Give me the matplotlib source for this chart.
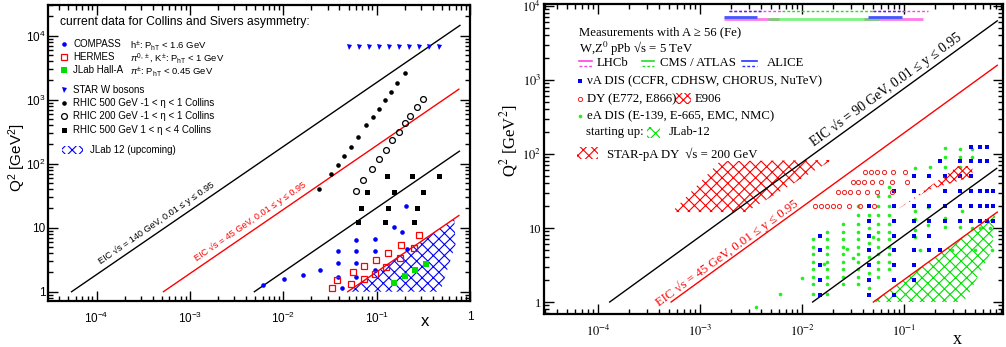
import numpy as np
import matplotlib
matplotlib.use("Agg")
import matplotlib.pyplot as plt
from matplotlib.patches import Polygon, Rectangle
from matplotlib.lines import Line2D

plt.rcParams['mathtext.fontset'] = 'custom'
plt.rcParams['mathtext.rm'] = 'Liberation Sans'
plt.rcParams['mathtext.it'] = 'Liberation Sans:italic'
plt.rcParams['mathtext.bf'] = 'Liberation Sans:bold'
plt.rcParams['hatch.linewidth'] = 0.8

SANS = 'Liberation Sans'
SERIF = 'Liberation Serif'

# ---------------- left panel data: Collins / Sivers ----------------
compass_x = [0.0061, 0.0103, 0.0162, 0.0249, 0.0388, 0.0388, 0.0388, 0.0428, 0.0603, 0.0603,
             0.0603, 0.0603, 0.0968, 0.0968, 0.0968, 0.155, 0.189, 0.207, 0.210]
compass_q2 = [1.26, 1.56, 1.82, 2.18, 4.28, 2.84, 1.71, 1.16, 6.50, 4.38,
              2.78, 1.71, 6.65, 4.38, 2.18, 10.4, 8.47, 21.8, 4.65]

hermes_x = [0.0332, 0.0372, 0.0533, 0.0556, 0.0728, 0.0740, 0.0953, 0.0975, 0.127, 0.132,
            0.177, 0.183, 0.249, 0.284]
hermes_q2 = [1.13, 1.51, 1.32, 2.01, 1.56, 2.55, 1.87, 3.13, 2.40, 4.06,
             3.33, 5.42, 4.82, 7.69]

halla_x = [0.152, 0.199, 0.255, 0.334]
halla_q2 = [1.38, 1.76, 2.16, 2.68]

starw_x = [0.050, 0.064, 0.082, 0.105, 0.135, 0.173, 0.223, 0.284, 0.366, 0.468]
starw_q2 = [6600] * 10

rhic500_x = [0.199, 0.166, 0.142, 0.122, 0.105, 0.0906, 0.0776, 0.0624, 0.0528, 0.0449,
             0.0382, 0.0324, 0.0243]
rhic500_q2 = [2612, 1824, 1318, 977, 723, 537, 403, 258, 185, 132, 95.5, 68.2, 40.3]

rhic200_x = [0.311, 0.269, 0.230, 0.202, 0.173, 0.147, 0.126, 0.106, 0.0885, 0.0715, 0.0603]
rhic200_q2 = [1026, 778, 562, 433, 313, 232, 166, 118, 82.6, 55.6, 37.8]

rhicfwd_x = [0.128, 0.238, 0.460, 0.0789, 0.153, 0.311, 0.0681, 0.131, 0.273, 0.0632, 0.122, 0.254]
rhicfwd_q2 = [64.3, 64.3, 64.3, 35.7, 35.7, 35.7, 20.1, 20.1, 20.1, 12.1, 12.1, 12.1]

jlab_left_x = [0.049, 0.68, 0.70, 0.48]
jlab_left_q2 = [1.0, 14.0, 5.5, 1.0]

eic140_x, eic140_q2 = [5.4e-5, 0.78], [1.0, 14500]
eic45l_x, eic45l_q2 = [5.2e-4, 0.76], [1.0, 1460]
low_l_x, low_l_q2 = [4.9e-3, 0.77], [1.0, 157]
jl_l_x, jl_l_q2 = [0.049, 0.76], [1.0, 15.5]

# ---------------- right panel data: nuclear ----------------
eic90_x, eic90_q2 = [1.3e-4, 0.82], [1.0, 6300]
eic45r_x, eic45r_q2 = [5.2e-4, 0.82], [1.0, 1580]
low_r_x, low_r_q2 = [0.0127, 0.81], [1.0, 64]
jl_r_x, jl_r_q2 = [0.05, 0.82], [1.0, 16.4]

dy_x = [0.0415, 0.0475, 0.0547, 0.0641, 0.0775, 0.102,
        0.0314, 0.0356, 0.0405, 0.0482, 0.0591, 0.0757, 0.108,
        0.0227, 0.0258, 0.0296, 0.0352, 0.0431, 0.0547, 0.0757,
        0.0134, 0.0152, 0.0175, 0.0200, 0.0232, 0.0291, 0.0371, 0.0512]
dy_q2 = [56.6] * 6 + [42.2] * 7 + [30.4] * 7 + [20.0] * 8

nu_x = ([0.015] * 5 + [0.045] * 7 + [0.08] * 8 + [0.125] * 8 + [0.175] * 5 + [0.225] * 2
        + [0.25] * 4 + [0.35] * 5 + [0.45] * 6 + [0.55] * 5 + [0.65] * 5 + [0.75] * 3)
nu_q2 = ([1.26, 2.0, 3.16, 5.0, 7.9]
         + [1.26, 2.0, 3.16, 5.0, 7.9, 12.6, 20]
         + [1.26, 2.0, 3.16, 5.0, 7.9, 12.6, 20, 31.6]
         + [2.0, 3.16, 5.0, 7.9, 12.6, 20, 31.6, 50]
         + [5.0, 7.9, 12.6, 20, 50]
         + [5.0, 80]
         + [12.6, 20, 31.6, 50]
         + [12.6, 20, 31.6, 50, 80]
         + [12.6, 20, 31.6, 50, 80, 126]
         + [12.6, 20, 31.6, 80, 126]
         + [12.6, 20, 31.6, 80, 126]
         + [12.6, 20, 31.6])

ea_x = ([0.0127] * 8 + [0.0177] * 9 + [0.0251] * 9 + [0.0356] * 11 + [0.0457] * 6
        + [0.056] * 11 + [0.0713] * 11
        + [0.128, 0.18, 0.252, 0.252, 0.252, 0.354, 0.354, 0.354, 0.461, 0.461,
           0.128, 0.128, 0.173, 0.128, 0.128, 0.173, 0.252, 0.252, 0.354, 0.368,
           0.461, 0.556, 0.697, 0.1435, 0.294, 0.497, 0.724,
           0.0099, 0.0061, 0.0035, 0.0163, 0.0274, 0.0314, 0.05])
ea_q2 = ([1.28, 1.75, 2.2, 2.8, 3.5, 4.4, 5.6, 7.0]
         + [1.28, 1.75, 2.2, 2.8, 3.5, 4.4, 5.6, 7.0, 8.9]
         + [1.75, 2.2, 2.8, 3.5, 4.4, 5.6, 7.0, 8.9, 11.3]
         + [1.75, 2.2, 2.8, 3.5, 4.4, 5.6, 7.0, 8.9, 11.3, 15, 19.8]
         + [1.56, 2.5, 4.0, 6.2, 9.9, 15]
         + [2.2, 2.8, 3.5, 4.4, 5.6, 7.0, 8.9, 11.3, 15, 19.8, 27]
         + [2.8, 3.5, 4.4, 5.6, 7.0, 8.9, 11.3, 15, 19.8, 27, 36]
         + [64, 67, 119, 92, 67, 116, 92, 67, 116, 92,
            17.1, 9.4, 19.4, 13.2, 7.6, 11, 13.5, 10.4, 10.4, 17.1,
            9.9, 9.9, 9.9, 5.0, 5.0, 5.0, 5.0,
            2.09, 1.28, 0.85, 3.26, 5.15, 3.97, 7.5])

star_pa_x = [5.28e-4, 2.82e-3, 0.0197, 1.57e-3]
star_pa_q2 = [16.4, 16.4, 83, 80]

e906_x = [0.0867, 0.34, 0.468, 0.468, 0.173]
e906_q2 = [17.9, 68.9, 68.9, 49.4, 32.6]

jlab_right_x = [0.05, 0.78, 0.729, 0.415, 0.37]
jlab_right_q2 = [1.0, 15.5, 5.0, 1.17, 1.0]

# W / Z0 pPb ranges (x_min, x_max) at Q2 = M_W^2 (solid) and M_Z^2 (dashed)
lhcb_w = [(1.72e-3, 5.96e-3), (0.0406, 0.153)]
cms_w = [(4.64e-3, 0.0569)]
alice_w = [(1.72e-3, 3.62e-3), (0.0444, 0.0955)]
lhcb_z = [(1.92e-3, 6.37e-3), (0.0497, 0.172)]
cms_z = [(6.37e-3, 0.0497)]
alice_z = [(1.92e-3, 4.06e-3), (0.0497, 0.0977)]
q2_w, q2_w_alice, q2_z = 6600, 7050, 8500

BLUE = '#0000ff'
RED = '#ff0000'
GREEN = '#00e000'
MAG = '#ff40e0'

fig = plt.figure(figsize=(10.06, 3.47), dpi=100)
W, H = 1006.0, 347.0
ax1 = fig.add_axes([48 / W, (H - 301) / H, 422 / W, 296 / H])
ax2 = fig.add_axes([544 / W, (H - 314) / H, 459 / W, 310 / H])

def setup(ax, xlim, ylim, family, mathfam, fs):
    ax.set_xscale('log')
    ax.set_yscale('log')
    ax.set_xlim(*xlim)
    ax.set_ylim(*ylim)
    xt = [1e-4, 1e-3, 1e-2, 1e-1, 1.0]
    xl = ['$10^{-4}$', '$10^{-3}$', '$10^{-2}$', '$10^{-1}$', '1']
    xt2 = [t for t in xt if xlim[0] <= t <= xlim[1]]
    xl2 = [l for t, l in zip(xt, xl) if xlim[0] <= t <= xlim[1]]
    ax.set_xticks(xt2, xl2)
    yt = [1, 10, 100, 1000, 10000]
    yl = ['1', '10', '$10^{2}$', '$10^{3}$', '$10^{4}$']
    yt2 = [t for t in yt if ylim[0] <= t <= ylim[1] * 1.001]
    yl2 = [l for t, l in zip(yt, yl) if ylim[0] <= t <= ylim[1] * 1.001]
    ax.set_yticks(yt2, yl2)
    ax.xaxis.set_minor_locator(matplotlib.ticker.LogLocator(base=10, subs=np.arange(2, 10), numticks=20))
    ax.yaxis.set_minor_locator(matplotlib.ticker.LogLocator(base=10, subs=np.arange(2, 10), numticks=20))
    ax.xaxis.set_minor_formatter(matplotlib.ticker.NullFormatter())
    ax.yaxis.set_minor_formatter(matplotlib.ticker.NullFormatter())
    ax.tick_params(which='both', direction='in', top=True, right=True, width=1.0,
                   labelsize=fs, labelfontfamily=family)
    ax.tick_params(which='major', length=7)
    ax.tick_params(which='minor', length=3.5)
    ax.tick_params(axis='x', which='major', pad=7)
    ax.tick_params(axis='y', which='major', pad=2)
    for lab in ax.get_xticklabels() + ax.get_yticklabels():
        lab.set_math_fontfamily(mathfam)
    for s in ax.spines.values():
        s.set_linewidth(1.6)

def slope_label(ax, xs, ys, xc, text, color, fs, family, off):
    p1 = ax.transData.transform((xs[0], ys[0]))
    p2 = ax.transData.transform((xs[1], ys[1]))
    ang = np.degrees(np.arctan2(p2[1] - p1[1], p2[0] - p1[0]))
    k = ys[1] / xs[1]
    r = np.radians(ang)
    ax.annotate(text, (xc, k * xc), xytext=(-np.sin(r) * off, np.cos(r) * off),
                textcoords='offset points', rotation=ang, rotation_mode='anchor',
                ha='center', va='bottom', color=color, fontsize=fs, family=family)

# ---------------- left panel ----------------
setup(ax1, (10 ** -4.52, 1.0), (10 ** -0.145, 10 ** 4.48), SANS, 'custom', 8.5)

ax1.add_patch(Polygon(list(zip(jlab_left_x, jlab_left_q2)), closed=True, fill=False,
                      hatch='xxx', edgecolor=BLUE, lw=0))
ax1.plot(eic140_x, eic140_q2, color='black', lw=1.0)
ax1.plot(eic45l_x, eic45l_q2, color=RED, lw=1.0)
ax1.plot(low_l_x, low_l_q2, color='black', lw=1.0)
ax1.plot(jl_l_x, jl_l_q2, color=RED, lw=1.0)

ax1.plot(compass_x, compass_q2, 'o', color=BLUE, ms=3.3, mew=0)
ax1.plot(hermes_x, hermes_q2, 's', mfc='none', mec=RED, ms=4.2, mew=0.9)
ax1.plot(halla_x, halla_q2, 's', color=GREEN, ms=4.2, mew=0)
ax1.plot(starw_x, starw_q2, 'v', color=BLUE, ms=3.6, mew=0)
ax1.plot(rhic500_x, rhic500_q2, 'o', color='black', ms=3.3, mew=0)
ax1.plot(rhic200_x, rhic200_q2, 'o', mfc='none', mec='black', ms=4.2, mew=0.9)
ax1.plot(rhicfwd_x, rhicfwd_q2, 's', color='black', ms=3.6, mew=0)

slope_label(ax1, eic140_x, eic140_q2, 4.9e-4, 'EIC √s = 140 GeV, 0.01 ≤ y ≤ 0.95',
            'black', 6.6, SANS, 3)
slope_label(ax1, eic45l_x, eic45l_q2, 5.0e-3, 'EIC √s = 45 GeV, 0.01 ≤ y ≤ 0.95',
            RED, 6.6, SANS, 3)

def fx1(px):
    return (px - 48) / 422.0

def fy1(py):
    return (301 - py) / 296.0

T1 = ax1.transAxes
ax1.text(fx1(60), fy1(22), 'current data for Collins and Sivers asymmetry:', transform=T1,
         fontsize=8.7, family=SANS, va='center')
leg1 = [
    ('o', BLUE, BLUE, 3.3, 44, 'COMPASS', r'h$^{\pm}$: P$_{\rm hT}$ < 1.6 GeV'),
    ('s', 'none', RED, 4.2, 57, 'HERMES', r'$\pi^{0,\pm}$, K$^{\pm}$: P$_{\rm hT}$ < 1 GeV'),
    ('s', GREEN, GREEN, 4.2, 70, 'JLab Hall-A', r'$\pi^{\pm}$: P$_{\rm hT}$ < 0.45 GeV'),
    ('v', BLUE, BLUE, 3.6, 90, 'STAR W bosons', None),
    ('o', 'black', 'black', 3.3, 103, 'RHIC 500 GeV -1 < η < 1 Collins', None),
    ('o', 'none', 'black', 4.2, 116, 'RHIC 200 GeV -1 < η < 1 Collins', None),
    ('s', 'black', 'black', 3.6, 130, 'RHIC 500 GeV 1 < η < 4 Collins', None),
]
for mk, fc, ec, ms, py, lab, extra in leg1:
    ax1.add_line(Line2D([fx1(64)], [fy1(py)], marker=mk, mfc=fc, mec=ec, ms=ms,
                        mew=0.9 if fc == 'none' else 0, transform=T1))
    ax1.text(fx1(73), fy1(py), lab, transform=T1, fontsize=7.0, family=SANS, va='center')
    if extra:
        ax1.text(fx1(130), fy1(py), extra, transform=T1, fontsize=6.8, family=SANS,
                 va='center_baseline', math_fontfamily='custom')
ax1.add_patch(Rectangle((fx1(62), fy1(154)), fx1(83) - fx1(62), fy1(146) - fy1(154),
                        transform=T1, fill=False, hatch='xxx', edgecolor=BLUE, lw=0))
ax1.text(fx1(90), fy1(150), 'JLab 12 (upcoming)', transform=T1, fontsize=7.0, family=SANS,
         va='center')

fig.text(17 / W, 1 - 158 / H, r'Q$^2$ [GeV$^2$]', rotation=90, ha='center', va='center',
         fontsize=11, family=SANS, math_fontfamily='custom')
fig.text(425 / W, 1 - 322 / H, 'x', ha='center', va='center', fontsize=12, family=SANS)

# ---------------- right panel ----------------
setup(ax2, (10 ** -4.53, 10 ** -0.03), (10 ** -0.162, 10 ** 4.027), SERIF, 'stix', 9.0)

ax2.add_patch(Polygon(list(zip(star_pa_x, star_pa_q2)), closed=True, fill=False,
                      hatch='xxx', edgecolor=RED, lw=0))
ax2.add_patch(Polygon(list(zip(jlab_right_x, jlab_right_q2)), closed=True, fill=False,
                      hatch='xxx', edgecolor=GREEN, lw=0))

ax2.plot(ea_x, ea_q2, 'o', color='#22ee22', ms=2.6, mew=0)
ax2.plot(nu_x, nu_q2, 's', color='#0000ee', ms=3.2, mew=0)
ax2.plot(dy_x, dy_q2, 'o', mfc='none', mec='#ee2222', ms=3.0, mew=0.7)
ax2.add_patch(Polygon(list(zip(e906_x, e906_q2)), closed=True, fill=False,
                      hatch='xxxx', edgecolor=RED, lw=0, zorder=3))

ax2.plot(eic90_x, eic90_q2, color='black', lw=1.0)
ax2.plot(eic45r_x, eic45r_q2, color=RED, lw=1.0)
ax2.plot(low_r_x, low_r_q2, color='black', lw=1.0)
ax2.plot(jl_r_x, jl_r_q2, color=RED, lw=1.0)

for a, b in lhcb_w:
    ax2.plot([a, b], [q2_w, q2_w], color=MAG, lw=2.0, alpha=0.7, solid_capstyle='butt')
for a, b in cms_w:
    ax2.plot([a, b], [q2_w, q2_w], color='#44ee44', lw=2.0, alpha=0.7, solid_capstyle='butt')
for a, b in alice_w:
    ax2.plot([a, b], [q2_w_alice, q2_w_alice], color='#4455ff', lw=2.0, solid_capstyle='butt')
for a, b in lhcb_z:
    ax2.plot([a, b], [q2_z, q2_z], color=MAG, lw=1.0, ls=(0, (2, 1.5)))
for a, b in cms_z:
    ax2.plot([a, b], [q2_z, q2_z], color='#22dd22', lw=1.0, ls=(0, (2, 1.5)))
for a, b in alice_z:
    ax2.plot([a, b], [q2_z, q2_z], color='#2233ff', lw=1.0, ls=(0, (2, 1.5)))

slope_label(ax2, eic90_x, eic90_q2, 0.075, 'EIC √s = 90 GeV, 0.01 ≤ y ≤ 0.95',
            'black', 9.8, SERIF, 2)
slope_label(ax2, eic45r_x, eic45r_q2, 2.0e-3, 'EIC √s = 45 GeV, 0.01 ≤ y ≤ 0.95',
            RED, 9.2, SERIF, 0.5)

def fx2(px):
    return (px - 544) / 459.0

def fy2(py):
    return (314 - py) / 310.0

T2 = ax2.transAxes
fs2 = 9.2
ax2.text(fx2(579), fy2(32), 'Measurements with A ≥ 56 (Fe)', transform=T2, fontsize=fs2,
         family=SERIF, va='center')
ax2.text(fx2(579), fy2(46), r'W,Z$^0$ pPb √s = 5 TeV', transform=T2, fontsize=fs2,
         family=SERIF, va='center_baseline', math_fontfamily='stix')
for x0, x1, col, lab, xt in [(579, 592, MAG, 'LHCb', 597), (642, 654, '#22dd22', 'CMS / ATLAS', 660),
                             (742, 757, '#2233ff', 'ALICE', 767)]:
    ax2.add_line(Line2D([fx2(x0), fx2(x1)], [fy2(61), fy2(61)], color=col, lw=1.2, transform=T2))
    ax2.add_line(Line2D([fx2(x0), fx2(x1)], [fy2(66), fy2(66)], color=col, lw=1.0,
                        ls=(0, (2, 1.5)), transform=T2))
    ax2.text(fx2(xt), fy2(63), lab, transform=T2, fontsize=fs2, family=SERIF, va='center')

ax2.add_line(Line2D([fx2(580)], [fy2(81)], marker='s', color='#0000ee', ms=3.2, mew=0, transform=T2))
ax2.text(fx2(587), fy2(81), 'νA DIS (CCFR, CDHSW, CHORUS, NuTeV)', transform=T2, fontsize=fs2,
         family=SERIF, va='center')
ax2.add_line(Line2D([fx2(580)], [fy2(99)], marker='o', mfc='none', mec='#ee2222', ms=3.0, mew=0.7,
                    transform=T2))
ax2.text(fx2(587), fy2(99), 'DY (E772, E866)', transform=T2, fontsize=fs2, family=SERIF, va='center')
ax2.add_patch(Rectangle((fx2(675), fy2(104)), fx2(691) - fx2(675), fy2(93) - fy2(104), transform=T2,
                        fill=False, hatch='xxxx', edgecolor=RED, lw=0))
ax2.text(fx2(695), fy2(99), 'E906', transform=T2, fontsize=fs2, family=SERIF, va='center')
ax2.add_line(Line2D([fx2(580)], [fy2(116)], marker='o', color='#22ee22', ms=2.6, mew=0, transform=T2))
ax2.text(fx2(587), fy2(116), 'eA DIS (E-139, E-665, EMC, NMC)', transform=T2, fontsize=fs2,
         family=SERIF, va='center')
ax2.text(fx2(586), fy2(132), 'starting up:', transform=T2, fontsize=fs2, family=SERIF, va='center')
ax2.add_patch(Rectangle((fx2(647), fy2(138)), fx2(660) - fx2(647), fy2(127) - fy2(138), transform=T2,
                        fill=False, hatch='xxx', edgecolor=GREEN, lw=0))
ax2.text(fx2(669), fy2(132), 'JLab-12', transform=T2, fontsize=fs2, family=SERIF, va='center')
ax2.add_patch(Rectangle((fx2(577), fy2(159)), fx2(598) - fx2(577), fy2(147) - fy2(159), transform=T2,
                        fill=False, hatch='xxx', edgecolor=RED, lw=0))
ax2.text(fx2(607), fy2(154), 'STAR-pA DY  √s = 200 GeV', transform=T2, fontsize=fs2,
         family=SERIF, va='center')

fig.text(509 / W, 1 - 140 / H, r'Q$^2$ [GeV$^2$]', rotation=90, ha='center', va='center',
         fontsize=12, family=SERIF, math_fontfamily='stix')
fig.text(957 / W, 1 - 339 / H, 'x', ha='center', va='center', fontsize=13, family=SERIF)

fig.savefig('out.png', dpi=100)
